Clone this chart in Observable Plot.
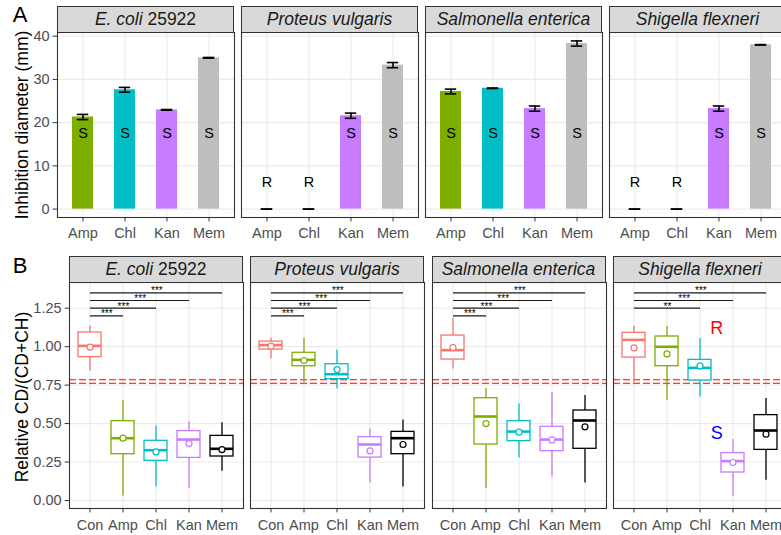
<!DOCTYPE html>
<html><head><meta charset="utf-8">
<script src="https://cdn.jsdelivr.net/npm/d3@7"></script>
<script src="https://cdn.jsdelivr.net/npm/@observablehq/plot@0.6"></script>
<style>
body{margin:0;background:#fff;}
#root{position:relative;width:781px;height:535px;overflow:hidden;font-family:"Liberation Sans",Arial,sans-serif;background:#fff}
.strip{position:absolute;box-sizing:border-box;background:#D9D9D9;border:1.1px solid #333;font-size:17.5px;color:#1A1A1A;text-align:center;white-space:nowrap;display:flex;align-items:center;justify-content:center}
.ytitle{position:absolute;font-size:17.5px;color:#000;white-space:nowrap;transform:translate(-50%,-50%) rotate(-90deg);}
.tag{position:absolute;font-size:22px;color:#000;transform:translate(-50%,-50%)}
.panel{position:absolute}
.panel svg{overflow:visible;max-width:none !important;display:block}
#root g[aria-label="x-axis tick label"], #root g[aria-label="y-axis tick label"]{fill:#4D4D4D}
#root g[aria-label="x-axis tick"], #root g[aria-label="y-axis tick"]{stroke:#333}
</style></head><body><div id="root"></div>
<script>
// ---------- data ----------
const antibiotics = ["Amp", "Chl", "Kan", "Mem"];
const groupsB = ["Con", "Amp", "Chl", "Kan", "Mem"];
const speciesItalic = ["E. coli", "Proteus vulgaris", "Salmonella enterica", "Shigella flexneri"];
const speciesSuffix = [" 25922", "", "", ""];
const barColors = ["#7CAE00", "#00BFC4", "#C77CFF", "#BEBEBE"];
const boxColors = ["#F8766D", "#7CAE00", "#00BFC4", "#C77CFF", "#000000"];

// Panel A: mean inhibition diameter (mm) and error, species x antibiotics
const inhibMean = [
  [21.3, 27.6, 22.95, 35.0],
  [0, 0, 21.6, 33.3],
  [27.2, 27.95, 23.25, 38.3],
  [0, 0, 23.25, 38.0]
];
const inhibErr = [
  [0.6, 0.55, 0.08, 0.08],
  [0, 0, 0.6, 0.6],
  [0.55, 0.05, 0.6, 0.6],
  [0, 0, 0.6, 0.05]
];
const callsA = [["S","S","S","S"],["R","R","S","S"],["S","S","S","S"],["R","R","S","S"]];
const callY = {S: 17.5, R: 6.3};
const yTicksA = [0, 10, 20, 30, 40];

// Panel B: box statistics, species x groups (Con, Amp, Chl, Kan, Mem)
const boxLow = [
  [0.84, 0.03, 0.087, 0.08, 0.19],
  [0.919, 0.767, 0.724, 0.113, 0.087],
  [0.854, 0.078, 0.277, 0.152, 0.113],
  [0.765, 0.652, 0.672, 0.026, 0.132]
];
const boxQ1 = [
  [0.932, 0.301, 0.258, 0.277, 0.286],
  [0.981, 0.873, 0.789, 0.279, 0.301],
  [0.916, 0.364, 0.386, 0.321, 0.336],
  [0.929, 0.873, 0.78, 0.182, 0.329]
];
const boxMed = [
  [1.005, 0.405, 0.327, 0.396, 0.336],
  [1.01, 0.914, 0.821, 0.364, 0.405],
  [0.977, 0.546, 0.448, 0.396, 0.52],
  [1.044, 0.999, 0.862, 0.256, 0.455]
];
const boxQ3 = [
  [1.092, 0.516, 0.388, 0.451, 0.42],
  [1.033, 0.96, 0.886, 0.412, 0.446],
  [1.072, 0.665, 0.516, 0.479, 0.585],
  [1.09, 1.066, 0.914, 0.308, 0.555]
];
const boxHigh = [
  [1.135, 0.65, 0.485, 0.513, 0.505],
  [1.055, 1.055, 0.979, 0.464, 0.524],
  [1.185, 0.728, 0.628, 0.702, 0.682],
  [1.135, 1.131, 1.053, 0.396, 0.663]
];
const boxMean = [
  [0.997, 0.405, 0.316, 0.37, 0.331],
  [1.003, 0.91, 0.851, 0.323, 0.364],
  [0.994, 0.5, 0.444, 0.394, 0.479],
  [0.992, 0.953, 0.875, 0.247, 0.431]
];
const sigLabels = [
  ["***","***","***","***"],
  ["***","***","***","***"],
  ["***","***","***","***"],
  ["","**","***","***"]
];
const bracketLevels = [1.2, 1.25, 1.3, 1.35];
const thresholds = [0.762, 0.785];
const yTicksB = [0, 0.25, 0.5, 0.75, 1, 1.25];
const shigellaR = [{label: "R", y: 1.12}];
const shigellaS = [{label: "S", y: 0.435}];

// ---------- layout ----------
const root = document.getElementById("root");
const FONT = '"Liberation Sans", Arial, sans-serif';
function div(cls, css, html) {
  const d = document.createElement("div");
  d.className = cls; d.style.cssText = css; d.innerHTML = html;
  root.appendChild(d); return d;
}
const baseStyle = {fontFamily: FONT, fontSize: "14.5px", overflow: "visible", background: "transparent"};

// ----- Row A -----
const aLefts = [57, 241, 425, 609], aW = 177, aTop = 32, aH = 185, aMB = 30;
div("tag", "left:20px;top:15px", "A");
div("ytitle", "left:21.5px;top:124.5px", "Inhibition diameter (mm)");
for (let s = 0; s < 4; s++) {
  const first = s === 0;
  const ml = first ? aLefts[0] : 0;
  const data = antibiotics.map((ab, i) => ({ab, mean: inhibMean[s][i], err: inhibErr[s][i], call: callsA[s][i]}));
  const marks = [
    Plot.gridY(yTicksA, {stroke: "#EBEBEB", strokeOpacity: 1, strokeWidth: 1.1}),
    Plot.gridX(antibiotics, {stroke: "#EBEBEB", strokeOpacity: 1, strokeWidth: 1.1}),
    Plot.barY(data, {x: "ab", y: "mean", fill: "ab"}),
    Plot.ruleX(data, {x: "ab", y1: d => d.mean - d.err, y2: d => d.mean + d.err, stroke: "#000", strokeWidth: 1.6}),
    Plot.tickY(data, {x: "ab", y: d => d.mean + d.err, stroke: "#000", strokeWidth: 1.6, insetLeft: 4.8, insetRight: 4.8}),
    Plot.tickY(data, {x: "ab", y: d => d.mean - d.err, stroke: "#000", strokeWidth: 1.6, insetLeft: 4.8, insetRight: 4.8}),
    Plot.text(data, {x: "ab", y: d => callY[d.call], text: "call", fontSize: 14.5, fill: "#000"}),
    Plot.frame({stroke: "#333", strokeWidth: 1.1}),
    Plot.axisX({tickSize: 4.4, tickPadding: 5.5, fontSize: 14.5, label: null})
  ];
  if (first) marks.push(Plot.axisY({ticks: yTicksA, tickSize: 4.4, tickPadding: 3.5, fontSize: 14.5, label: null}));
  const chart = Plot.plot({
    width: ml + aW, height: aH + aMB,
    marginTop: 0, marginBottom: aMB, marginLeft: ml, marginRight: 0,
    style: baseStyle,
    x: {type: "band", domain: antibiotics, paddingInner: 0.5, paddingOuter: 0.35, axis: null},
    y: {domain: [-1.94, 40.85], axis: null},
    color: {domain: antibiotics, range: barColors},
    marks
  });
  const p = div("panel", `left:${first ? 0 : aLefts[s]}px;top:${aTop}px;width:${ml + aW}px;height:${aH + aMB}px`, "");
  p.appendChild(chart);
  div("strip", `left:${aLefts[s]}px;top:6px;width:${aW}px;height:26.5px`,
      `<span><i>${speciesItalic[s]}</i>${speciesSuffix[s]}</span>`);
}

// ----- Row B -----
const bLefts = [69, 250, 431.5, 613], bW = 174, bTop = 282, bH = 226, bMB = 27;
const stepB = bW / 5.2;
div("tag", "left:20px;top:266px", "B");
div("ytitle", "left:21.5px;top:397px", "Relative CD/(CD+CH)");
for (let s = 0; s < 4; s++) {
  const first = s === 0;
  const ml = first ? bLefts[0] : 0;
  const rows = groupsB.map((g, i) => ({g, low: boxLow[s][i], q1: boxQ1[s][i], med: boxMed[s][i], q3: boxQ3[s][i], high: boxHigh[s][i], mean: boxMean[s][i]}));
  const brackets = groupsB.slice(1).map((g, k) => ({target: g, k: k + 1, label: sigLabels[s][k], y: bracketLevels[k]})).filter(d => d.label);
  const marks = [
    Plot.gridY(yTicksB, {stroke: "#EBEBEB", strokeOpacity: 1, strokeWidth: 1.1}),
    Plot.gridX(groupsB, {stroke: "#EBEBEB", strokeOpacity: 1, strokeWidth: 1.1}),
    Plot.ruleY(thresholds, {stroke: "#FF0000", strokeDasharray: "7,3", strokeWidth: 1.2}),
    Plot.ruleX(rows, {x: "g", y1: "low", y2: "high", stroke: "g", strokeWidth: 1.3}),
    Plot.barY(rows, {x: "g", y1: "q1", y2: "q3", fill: "white", stroke: "g", strokeWidth: 1.3}),
    Plot.tickY(rows, {x: "g", y: "med", stroke: "g", strokeWidth: 2.6}),
    Plot.dot(rows, {x: "g", y: "mean", r: 3, fill: "white", stroke: "g", strokeWidth: 1.2}),
    Plot.link(brackets, {x1: () => "Con", x2: "target", y1: "y", y2: "y", stroke: "#1A1A1A", strokeWidth: 1.2}),
    ...brackets.map(b => Plot.text([b], {x: () => "Con", y: "y", text: "label", dx: b.k * stepB / 2, dy: 1.5, lineAnchor: "bottom", fontSize: 10, fill: "#000"})),
    Plot.frame({stroke: "#333", strokeWidth: 1.1}),
    Plot.axisX({tickSize: 4.4, tickPadding: 6.5, fontSize: 14.5, label: null})
  ];
  if (s === 3) {
    marks.push(Plot.text(shigellaR, {x: () => "Chl", y: "y", text: "label", dx: stepB / 2, fontSize: 18, fill: "#FF0000"}));
    marks.push(Plot.text(shigellaS, {x: () => "Chl", y: "y", text: "label", dx: stepB / 2, fontSize: 18, fill: "#0000FF"}));
  }
  if (first) marks.push(Plot.axisY({ticks: yTicksB, tickFormat: d3.format(".2f"), tickSize: 4.4, tickPadding: 3.5, fontSize: 14.5, label: null}));
  const chart = Plot.plot({
    width: ml + bW, height: bH + bMB,
    marginTop: 0, marginBottom: bMB, marginLeft: ml, marginRight: 0,
    style: baseStyle,
    x: {type: "band", domain: groupsB, paddingInner: 0.3, paddingOuter: 0.25, axis: null},
    y: {domain: [-0.052, 1.417], axis: null},
    color: {domain: groupsB, range: boxColors},
    marks
  });
  const p = div("panel", `left:${first ? 0 : bLefts[s]}px;top:${bTop}px;width:${ml + bW}px;height:${bH + bMB}px`, "");
  p.appendChild(chart);
  div("strip", `left:${bLefts[s]}px;top:256px;width:${bW}px;height:26.5px`,
      `<span><i>${speciesItalic[s]}</i>${speciesSuffix[s]}</span>`);
}
</script></body></html>
